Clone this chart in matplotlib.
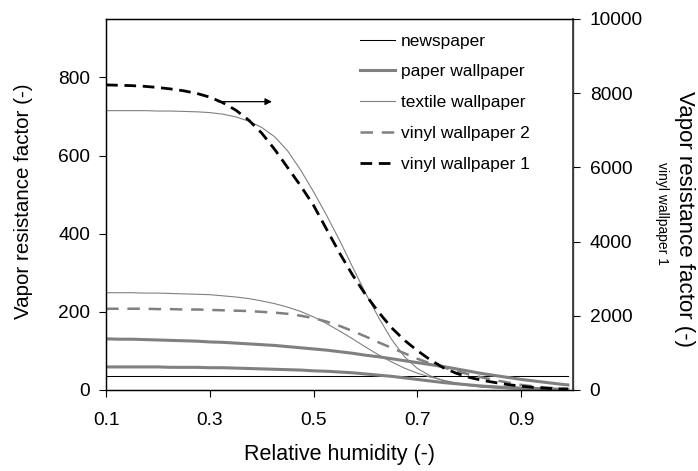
import numpy as np
import matplotlib
matplotlib.use('Agg')
import matplotlib.pyplot as plt

plt.rcParams['font.family'] = ['Liberation Sans', 'DejaVu Sans']

#---------------------------------------------------------------data
rh = [0.100, 0.125, 0.150, 0.175, 0.200, 0.225, 0.250, 0.275, 0.300,
      0.325, 0.350, 0.375, 0.400, 0.425, 0.450, 0.475, 0.500, 0.525,
      0.550, 0.575, 0.600, 0.625, 0.650, 0.675, 0.700, 0.725, 0.750,
      0.775, 0.800, 0.825, 0.850, 0.875, 0.900, 0.925, 0.950, 0.975,
      0.990]

newspaper = [35] * len(rh)
paper_wp_a = [131, 130, 130, 129, 128, 127, 126, 125, 123,
              122, 120, 118, 116, 114, 111, 108, 105, 102,
              98, 94, 89, 85, 80, 75, 70, 65, 60,
              54, 48, 42, 37, 32, 27, 23, 19, 15,
              13]
paper_wp_b = [59, 59, 59, 59, 59, 58, 58, 58, 57,
              57, 56, 55, 54, 53, 52, 51, 49, 48,
              46, 44, 41, 38, 35, 31, 27, 23, 19,
              16, 13, 10, 8, 6, 5, 4, 3, 2,
              2]
textile_wp_a = [715, 715, 715, 715, 714, 714, 713, 712, 710,
                706, 699, 688, 672, 648, 612, 563, 507, 447,
                383, 315, 248, 186, 130, 85, 55, 36, 24,
                16, 11, 7, 5, 3, 2, 1, 1, 0,
                0]
textile_wp_b = [249, 249, 249, 248, 248, 247, 246, 245, 244,
                241, 238, 234, 228, 221, 212, 201, 187, 170,
                151, 131, 110, 90, 72, 56, 43, 33, 25,
                18, 13, 9, 6, 4, 3, 2, 1, 1,
                0]
vinyl_wp2 = [208, 208, 208, 208, 207, 207, 206, 206, 205,
             204, 203, 202, 200, 198, 195, 190, 184, 175,
             164, 151, 137, 122, 108, 94, 80, 68, 58,
             48, 40, 32, 25, 19, 13, 9, 6, 4,
             3]
vinyl_wp1 = [8220, 8210, 8200, 8180, 8150, 8110, 8060, 7990, 7890,
             7740, 7540, 7270, 6920, 6480, 5990, 5500, 4970, 4330,
             3690, 3100, 2570, 2100, 1680, 1340, 1060, 810, 600,
             450, 340, 260, 200, 145, 100, 70, 45, 28,
             20]

xticks = [0.1, 0.3, 0.5, 0.7, 0.9]
yticks_left = [0, 200, 400, 600, 800]
yticks_right = [0, 2000, 4000, 6000, 8000, 10000]

#---------------------------------------------------------------figure
fig = plt.figure(figsize=(6.98, 4.71), dpi=100)
ax = fig.add_axes([0.152, 0.172, 0.669, 0.788])
ax2 = ax.twinx()

gray = '#808080'
ax.plot(rh, newspaper, color='k', lw=0.75, label='newspaper')
ax.plot(rh, paper_wp_a, color=gray, lw=2.2, label='paper wallpaper')
ax.plot(rh, paper_wp_b, color=gray, lw=2.2)
ax.plot(rh, textile_wp_a, color=gray, lw=0.8, label='textile wallpaper')
ax.plot(rh, textile_wp_b, color=gray, lw=0.8)
ax.plot(rh, vinyl_wp2, color=gray, lw=1.8, dashes=(5, 3.5),
        label='vinyl wallpaper 2')
ax2.plot(rh, vinyl_wp1, color='k', lw=2.0, dashes=(4.2, 2.4),
         label='vinyl wallpaper 1')

#---------------------------------------------------------------axes
ax.set_xlim(0.1, 1.0)
ax.set_ylim(0, 950)
ax2.set_ylim(0, 10000)
ax.set_xticks(xticks)
ax.set_xticklabels([str(v) for v in xticks])
ax.set_yticks(yticks_left)
ax2.set_yticks(yticks_right)

for a in (ax, ax2):
    a.tick_params(direction='out', length=5, width=0.8, labelsize=13.8,
                  colors='k')
    for s in a.spines.values():
        s.set_linewidth(0.9)
ax.tick_params(axis='x', pad=11)
ax.tick_params(axis='y', pad=6.5)
ax2.tick_params(axis='y', pad=7)
ax2.spines['right'].set_color('#404040')
ax2.spines['right'].set_linewidth(1.3)

ax.set_xlabel('Relative humidity (-)', fontsize=15.5)
ax.xaxis.set_label_coords(0.5, -0.145)
ax.set_ylabel('Vapor resistance factor (-)', fontsize=14.8)
ax.yaxis.set_label_coords(-0.156, 0.509)
fig.text(0.981, 0.535, 'Vapor resistance factor (-)', fontsize=16,
         rotation=-90, ha='center', va='center')
fig.text(0.948, 0.546, 'vinyl wallpaper 1', fontsize=10, rotation=-90,
         ha='center', va='center')

#---------------------------------------------------------------arrow
ax.annotate('', xy=(0.425, 738), xytext=(0.31, 738),
            arrowprops=dict(arrowstyle='-|>', color='k', lw=0.9,
                            mutation_scale=10))

#---------------------------------------------------------------legend
h1, l1 = ax.get_legend_handles_labels()
h2, l2 = ax2.get_legend_handles_labels()
ax.legend(h1 + h2, l1 + l2, loc='upper left',
          bbox_to_anchor=(0.494, 0.962), bbox_transform=fig.transFigure,
          frameon=False, fontsize=12.5, handlelength=2.0,
          handletextpad=0.35, labelspacing=0.9)

fig.savefig('out.png', dpi=100)
